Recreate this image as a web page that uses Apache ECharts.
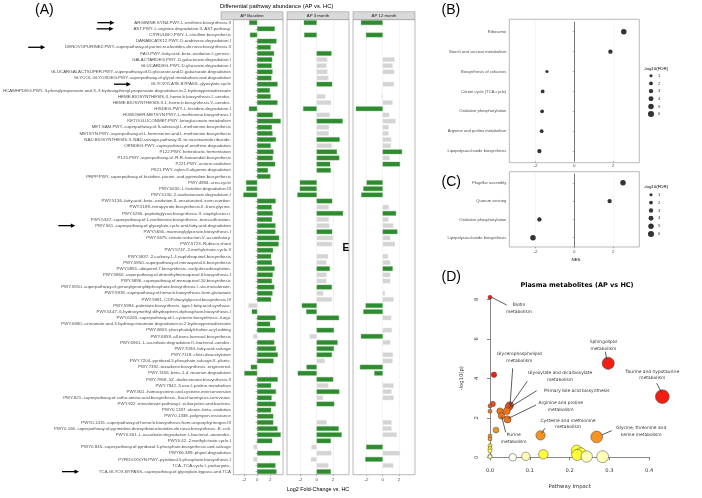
<!DOCTYPE html>
<html>
<head>
<meta charset="utf-8">
<script src="https://cdn.jsdelivr.net/npm/echarts@6.0.0/dist/echarts.min.js"></script>
<style>html,body{margin:0;padding:0;background:#fff;}#chart{width:702px;height:498px;}</style>
</head>
<body>
<div id="chart"></div>
<script>
// ---------- Panel A data ----------
const pathways = [
'ARGININE.SYN4.PWY..L.ornithine.biosynthesis.II',
'AST.PWY..L.arginine.degradation.II..AST.pathway.',
'CITRULBIO.PWY..L.citrulline.biosynthesis',
'DARABCATK12.PWY..D.arabinose.degradation.I',
'DENOVOPURINE2.PWY..superpathway.of.purine.nucleotides.de.novo.biosynthesis.II',
'FAO.PWY..fatty.acid..beta..oxidation.I..generic.',
'GALACTARDEG.PWY..D.galactarate.degradation.I',
'GLUCARDEG.PWY..D.glucarate.degradation.I',
'GLUCARGALACTSUPER.PWY..superpathway.of.D.glucarate.and.D.galactarate.degradation',
'GLYCOL.GLYOXDEG.PWY..superpathway.of.glycol.metabolism.and.degradation',
'GLYOXYLATE.BYPASS..glyoxylate.cycle',
'HCAMHPDEG.PWY..3.phenylpropanoate.and.3..3.hydroxyphenyl.propanoate.degradation.to.2.hydroxypentadienoate',
'HEME.BIOSYNTHESIS.II..heme.b.biosynthesis.I..aerobic.',
'HEME.BIOSYNTHESIS.II.1..heme.b.biosynthesis.V..aerobic.',
'HISDEG.PWY..L.histidine.degradation.I',
'HOMOSER.METSYN.PWY..L.methionine.biosynthesis.I',
'KETOGLUCONMET.PWY..ketogluconate.metabolism',
'MET.SAM.PWY..superpathway.of.S.adenosyl.L.methionine.biosynthesis',
'METSYN.PWY..superpathway.of.L.homoserine.and.L.methionine.biosynthesis',
'NAD.BIOSYNTHESIS.II..NAD.salvage.pathway.III..to.nicotinamide.riboside.',
'ORNDEG.PWY..superpathway.of.ornithine.degradation',
'P122.PWY..heterolactic.fermentation',
'P125.PWY..superpathway.of..R.R..butanediol.biosynthesis',
'P221.PWY..octane.oxidation',
'P621.PWY..nylon.6.oligomer.degradation',
'PRPP.PWY..superpathway.of.histidine..purine..and.pyrimidine.biosynthesis',
'PWY.4984..urea.cycle',
'PWY.5030..L.histidine.degradation.III',
'PWY.5130..2.oxobutanoate.degradation.I',
'PWY.5136..fatty.acid..beta..oxidation.II..unsaturated..even.number.',
'PWY.5189..tetrapyrrole.biosynthesis.II..from.glycine.',
'PWY.5265..peptidoglycan.biosynthesis.II..staphylococci.',
'PWY.5347..superpathway.of.L.methionine.biosynthesis..transsulfuration.',
'PWY.561..superpathway.of.glyoxylate.cycle.and.fatty.acid.degradation',
'PWY.5656..mannosylglycerate.biosynthesis.I',
'PWY.5675..nitrate.reduction.V..assimilatory.',
'PWY.5723..Rubisco.shunt',
'PWY.5747..2.methylcitrate.cycle.II',
'PWY.5837..2.carboxy.1.4.naphthoquinol.biosynthesis',
'PWY.5850..superpathway.of.menaquinol.6.biosynthesis',
'PWY.5855..ubiquinol.7.biosynthesis..early.decarboxylation.',
'PWY.5860..superpathway.of.demethylmenaquinol.6.biosynthesis.I',
'PWY.5896..superpathway.of.menaquinol.10.biosynthesis',
'PWY.5910..superpathway.of.geranylgeranyldiphosphate.biosynthesis.I..via.mevalonate.',
'PWY.5918..superpathway.of.heme.b.biosynthesis.from.glutamate',
'PWY.5981..CDP.diacylglycerol.biosynthesis.III',
'PWY.5994..palmitate.biosynthesis..type.I.fatty.acid.synthase.',
'PWY.6147..6.hydroxymethyl.dihydropterin.diphosphate.biosynthesis.I',
'PWY.6263..superpathway.of.L.cysteine.biosynthesis..fungi.',
'PWY.6690..cinnamate.and.3.hydroxycinnamate.degradation.to.2.hydroxypentadienoate',
'PWY.6803..phosphatidylcholine.acyl.editing',
'PWY.6859..all.trans.farnesol.biosynthesis',
'PWY.6961..L.ascorbate.degradation.II..bacterial..aerobic.',
'PWY.7094..fatty.acid.salvage',
'PWY.7118..chitin.deacetylation',
'PWY.7204..pyridoxal.5.phosphate.salvage.II..plants.',
'PWY.7392..taxadiene.biosynthesis..engineered.',
'PWY.7456..beta..1.4..mannan.degradation',
'PWY.7858..5Z..dodecenoate.biosynthesis.II',
'PWY.7942..5.oxo.L.proline.metabolism',
'PWY.801..homocysteine.and.cysteine.interconversion',
'PWY.821..superpathway.of.sulfur.amino.acid.biosynthesis..Saccharomyces.cerevisiae.',
'PWY.922..mevalonate.pathway.I..eukaryotes.and.bacteria.',
'PWY0.1337..oleate..beta..oxidation',
'PWY0.1338..polymyxin.resistance',
'PWY0.1415..superpathway.of.heme.b.biosynthesis.from.uroporphyrinogen.III',
'PWY0.166..superpathway.of.pyrimidine.deoxyribonucleotides.de.novo.biosynthesis..E..coli.',
'PWY0.301..L.ascorbate.degradation.I..bacterial..anaerobic.',
'PWY0.42..2.methylcitrate.cycle.I',
'PWY0.845..superpathway.of.pyridoxal.5.phosphate.biosynthesis.and.salvage',
'PWY66.389..phytol.degradation',
'PYRIDOXSYN.PWY..pyridoxal.5.phosphate.biosynthesis.I',
'TCA..TCA.cycle.I..prokaryotic.',
'TCA.GLYOX.BYPASS..superpathway.of.glyoxylate.bypass.and.TCA'
];
const facets = ['AP Baseline', 'AP 3 month', 'AP 12 month'];
const fcBaseline = [-1.22,2.73,-1.10,2.98,2.08,2.61,2.33,2.24,2.37,2.20,
3.14,1.96,2.08,3.14,-1.27,2.41,3.63,2.29,2.37,2.90,
2.08,2.53,2.41,2.78,1.67,2.04,-1.71,-1.67,-2.12,2.86,
2.24,2.41,2.29,2.82,2.82,3.39,3.31,2.45,2.16,2.29,
2.69,2.41,2.29,2.65,2.37,2.16,-1.35,-0.82,2.86,2.00,
2.78,-0.61,2.65,2.90,3.18,2.53,-0.98,-1.96,3.18,2.16,
2.90,2.24,2.86,2.16,2.49,2.49,3.14,3.63,2.33,-0.57,
3.55,-0.61,2.82,2.98];
const fc3Month = [-1.58,null,-1.54,null,null,1.83,1.33,1.21,1.33,1.46,
1.92,null,1.08,1.79,-1.67,1.63,3.21,1.54,1.50,2.83,
1.88,2.50,2.79,1.67,1.75,null,-2.08,-2.08,-2.38,1.92,
1.50,3.25,1.50,1.58,1.92,2.00,1.92,null,1.42,1.21,
1.63,1.25,1.21,1.88,0.83,1.88,-1.83,-1.29,2.75,null,
2.13,-0.88,2.58,2.13,1.88,1.00,-1.25,-2.33,2.04,1.46,
2.79,0.79,2.17,null,null,1.25,2.71,3.08,1.75,-0.67,
1.83,-0.71,1.46,1.75];
const fc12Month = [-2.68,null,-2.06,null,null,null,1.48,1.24,1.44,null,
1.40,null,-0.12,1.24,-3.30,0.82,1.61,0.74,0.74,1.07,
1.03,2.39,0.87,2.14,null,null,-1.98,-2.39,-2.64,null,
0.78,1.65,0.74,1.32,1.81,0.95,1.53,null,0.66,0.95,
1.24,0.95,0.95,null,0.29,1.36,-2.10,-2.39,1.07,null,
1.15,-2.68,0.95,null,1.28,1.24,-2.80,-1.03,null,1.36,
1.11,1.36,null,null,null,1.11,1.11,1.73,null,-2.02,
2.14,-2.14,1.32,null];
// 1 = significant (green), 0 = not significant (grey)
const sigBaseline = [1,1,1,1,1,1,1,1,1,1, 1,1,1,1,1,1,1,1,1,1, 1,1,1,1,1,1,1,1,1,1, 1,1,1,1,1,1,1,1,1,1,
1,1,1,1,1,1,0,1,1,1, 1,0,1,1,1,1,1,1,1,1, 1,1,1,1,1,1,1,1,1,0, 1,0,1,1];
const sig3Month = [1,0,1,0,0,1,0,0,0,0, 1,0,0,0,1,0,1,0,0,1, 0,1,1,1,1,0,1,1,1,1, 0,1,0,0,1,0,0,0,0,0,
1,0,0,1,0,0,1,1,1,0, 1,0,1,1,1,0,1,1,1,0, 1,0,1,0,0,0,1,1,1,0, 0,0,0,1];
const sig12Month = [1,0,1,0,0,0,0,0,0,0, 0,0,0,0,1,0,0,0,0,0, 0,1,0,1,0,0,1,1,1,0, 0,1,0,0,1,0,0,0,0,0,
1,0,0,0,0,0,1,1,0,0, 0,1,0,0,0,0,1,1,0,0, 0,0,0,0,0,0,0,0,0,1, 0,1,0,0];
const fcTicks = [-2, 0, 2];
const arrowedPathways = [pathways[0], pathways[1], pathways[4], pathways[10], pathways[33], pathways[73]];

// ---------- Panels B & C data ----------
const termsB = ['Ribosome','Starch and sucrose metabolism','Biosynthesis of cofactors','Citrate cycle (TCA cycle)',
  'Oxidative phosphorylation','Arginine and proline metabolism','Lipopolysaccharide biosynthesis'];
const nesB = [2.55, 1.86, -1.41, -1.63, -1.66, -1.68, -1.80];
const fdrB = [5, 3, 1, 2, 2, 2, 3];
const termsC = ['Flagellar assembly','Quorum sensing','Oxidative phosphorylation','Lipopolysaccharide biosynthesis'];
const nesC = [2.51, 1.82, -1.80, -2.13];
const fdrC = [5, 3, 3, 5];
const nesTicks = [-2, 0, 2];
const fdrLegend = ['1','2','3','4','5','6'];

// ---------- Panel D data ----------
const metImpact = [0.0, 0.010, 0.007, 0.0, 0.0, 0.025, 0.050, 0.047, 0.042, 0.029, 0.044, 0.015,
  0.0, 0.0, 0.0, 0.0, 0.0, 0.0, 0.0, 0.057, 0.090, 0.134, 0.127, 0.268, 0.218, 0.228, 0.219, 0.243, 0.283, 0.297, 0.433];
const metLogP = [8.10, 4.18, 2.70, 2.60, 2.33, 2.34, 2.63, 2.55, 2.34, 2.10, 1.92, 1.38,
  1.08, 0.93, 0.59, 0.44, 0.33, 0.07, 0.03, 0.0, 0.05, 0.15, 1.11, 1.03, 0.34, 0.20, 0.12, 0.04, 0.03, 4.76, 3.07];

// annotation placement (data coordinates of panel D)
const metNotes = [
 {text:'Biotin\nmetabolism', at:[0.0729,7.54], line:[[0.042,7.71],[0.0043,8.10]]},
 {text:'Sphingolipid\nmetabolism', at:[0.2847,5.67], line:[[0.2897,5.35],[0.2932,4.96]]},
 {text:'Taurine and hypotaurine\nmetabolism', at:[0.4078,4.18], line:[[0.4188,3.75],[0.4314,3.27]]},
 {text:'Glycerophospholipid\nmetabolism', at:[0.0736,5.06], line:[[0.057,4.51],[0.0503,2.62]]},
 {text:'Glyoxylate and dicarboxylate\nmetabolism', at:[0.1759,4.10], line:[[0.0937,3.85],[0.050,2.60]]},
 {text:'Primary bile acid biosynthesis', at:[0.2178,3.34], line:[[0.1173,3.37],[0.0470,2.50]]},
 {text:'Arginine and proline\nmetabolism', at:[0.1776,2.58], line:[[0.1156,2.65],[0.046,1.97]]},
 {text:'Cysteine and methionine\nmetabolism', at:[0.196,1.70], line:[[0.138,1.47],[0.130,1.22]]},
 {text:'Glycine, threonine and\nserine metabolism', at:[0.380,1.32], line:[[0.3058,1.35],[0.2807,1.13]]},
 {text:'Purine\nmetabolism', at:[0.0595,0.97], line:[[0.0394,1.27],[0.0294,2.06]]}
];

// ---------- build chart ----------
const FONT = "'Liberation Sans', Arial, sans-serif";
const DFONT = "'DejaVu Sans', sans-serif";
const GREEN = '#2f8b2f', GREY = '#d4d4d4';
const facetLeft = [221, 287, 353], facetTop = 19.6, facetH = 455.1, facetW = 62;
const fcSeries = [fcBaseline, fc3Month, fc12Month];
const sigSeries = [sigBaseline, sig3Month, sig12Month];

const grids = [], xAxes = [], yAxes = [], series = [];
for (let i = 0; i < 3; i++) {
  grids.push({left: facetLeft[i], top: facetTop, width: facetW, height: facetH, show: true,
    borderColor: '#8a8a8a', borderWidth: 0.6, backgroundColor: '#fff'});
  xAxes.push({type: 'value', gridIndex: i, min: -3.65, max: 3.98,
    axisLine: {show: false},
    axisTick: {show: true, customValues: fcTicks, length: 1.5, lineStyle: {color: '#666', width: 0.5}},
    axisLabel: {customValues: fcTicks, fontSize: 4.4, color: '#4d4d4d', margin: 3, fontFamily: FONT},
    splitLine: {show: true, lineStyle: {color: '#e8e8e8', width: 0.5}}});
  yAxes.push({type: 'category', gridIndex: i, data: pathways, inverse: true,
    axisLine: {show: false},
    axisTick: {show: i === 0, length: 1.5, alignWithLabel: true, interval: 0, lineStyle: {color: '#666', width: 0.5}},
    axisLabel: {show: i === 0, interval: 0, fontSize: 4.4, color: '#4d4d4d', margin: 2.5, fontFamily: FONT},
    splitLine: {show: false}});
  series.push({type: 'bar', xAxisIndex: i, yAxisIndex: i, barWidth: '76%', silent: true,
    data: fcSeries[i].map((v, k) => v === null ? '-' : {value: v, itemStyle: {
      color: sigSeries[i][k] ? GREEN : GREY, borderColor: sigSeries[i][k] ? '#5aa95a' : '#e6e6e6', borderWidth: 0.4}})});
}

// Panels B, C
const bcGrids = [
  {left: 509.3, top: 21.8, width: 130, height: 139.2},
  {left: 509.3, top: 173.65, width: 130, height: 73.2}
];
const bcTerms = [termsB, termsC], bcNes = [nesB, nesC], bcFdr = [fdrB, fdrC];
const fdrSize = v => 2.6 + 0.58 * v;
for (let j = 0; j < 2; j++) {
  const gi = 3 + j;
  grids.push(bcGrids[j]);
  xAxes.push({type: 'value', gridIndex: gi, min: -3.35, max: 3.35,
    axisLine: {show: false},
    axisTick: {show: true, customValues: nesTicks, length: 1.5, lineStyle: {color: '#666', width: 0.5}},
    axisLabel: {customValues: nesTicks, fontSize: 4.4, color: '#4d4d4d', margin: 3, fontFamily: FONT},
    splitLine: {show: true, lineStyle: {color: '#ececec', width: 0.5}}});
  yAxes.push({type: 'category', gridIndex: gi, data: bcTerms[j], inverse: true,
    axisLine: {show: false},
    axisTick: {show: true, length: 1.5, alignWithLabel: true, lineStyle: {color: '#666', width: 0.5}},
    axisLabel: {interval: 0, fontSize: 4.1, color: '#4d4d4d', margin: 3, fontFamily: FONT},
    splitLine: {show: false}});
  series.push({type: 'scatter', xAxisIndex: gi, yAxisIndex: gi, silent: true,
    data: bcTerms[j].map((t, k) => [bcNes[j][k], t, bcFdr[j][k]]),
    symbolSize: v => fdrSize(v[2]),
    itemStyle: {color: '#000'},
    markLine: {silent: true, symbol: 'none', label: {show: false},
      lineStyle: {color: '#555', width: 0.8, type: 'solid'}, data: [{xAxis: 0}]}});
}
// size legends
const legTops = [71.9, 190.8], legH = [46, 47.2];
for (let j = 0; j < 2; j++) {
  const gi = 5 + j;
  grids.push({left: 648, top: legTops[j], width: 6, height: legH[j]});
  xAxes.push({type: 'value', gridIndex: gi, min: -1, max: 1, show: false});
  yAxes.push({type: 'category', gridIndex: gi, data: fdrLegend, inverse: true, position: 'right',
    axisLine: {show: false}, axisTick: {show: false},
    axisLabel: {interval: 0, fontSize: 4.2, color: '#333', margin: 4, fontFamily: FONT}});
  series.push({type: 'scatter', xAxisIndex: gi, yAxisIndex: gi, silent: true,
    data: fdrLegend.map(s => [0, s]), symbolSize: v => fdrSize(Number(v[1])), itemStyle: {color: '#000'}});
}
// Panel D
grids.push({left: 490, top: 299.3, width: 159.2, height: 158});
xAxes.push({type: 'value', gridIndex: 7, min: 0, max: 0.4, interval: 0.1, offset: 6,
  axisLine: {show: true, lineStyle: {color: '#555', width: 0.7}},
  axisTick: {show: true, length: 3, lineStyle: {color: '#555', width: 0.7}},
  axisLabel: {formatter: v => v.toFixed(1), fontSize: 5.2, color: '#333', margin: 5, fontFamily: DFONT},
  splitLine: {show: false},
  name: 'Pathway Impact', nameLocation: 'middle', nameGap: 21,
  nameTextStyle: {fontSize: 5.3, color: '#333', fontFamily: DFONT}});
yAxes.push({type: 'value', gridIndex: 7, min: 0, max: 8, interval: 2, offset: 5,
  axisLine: {show: true, lineStyle: {color: '#555', width: 0.7}},
  axisTick: {show: true, length: 3, lineStyle: {color: '#555', width: 0.7}},
  axisLabel: {rotate: 90, fontSize: 5.2, color: '#333', margin: 6, fontFamily: DFONT},
  splitLine: {show: false},
  name: '-log10(p)', nameLocation: 'middle', nameGap: 21, nameRotate: 90,
  nameTextStyle: {fontSize: 5.3, color: '#333', fontFamily: DFONT}});
series.push({type: 'scatter', xAxisIndex: 7, yAxisIndex: 7, silent: true, clip: false,
  data: metImpact.map((x, i) => [x, metLogP[i]]),
  symbolSize: d => 4 + 15 * Math.sqrt(d[0]),
  itemStyle: {borderColor: '#444', borderWidth: 0.5, opacity: 1}});

const chart = echarts.init(document.getElementById('chart'), null, {renderer: 'canvas'});
chart.setOption({
  animation: false,
  backgroundColor: '#fff',
  textStyle: {fontFamily: FONT},
  grid: grids, xAxis: xAxes, yAxis: yAxes, series: series,
  visualMap: [{type: 'piecewise', show: false, seriesIndex: 7, dimension: 1,
    pieces: [
      {lt: 0.015, color: '#fffff4'},
      {gte: 0.015, lt: 0.08, color: '#ffffb8'},
      {gte: 0.08, lt: 0.5, color: '#ffff3a'},
      {gte: 0.5, lt: 0.9, color: '#ffd83a'},
      {gte: 0.9, lt: 1.6, color: '#f39322'},
      {gte: 1.6, lt: 2.5, color: '#ef7219'},
      {gte: 2.5, lt: 3.0, color: '#e8521a'},
      {gte: 3.0, color: '#f21e14'}
    ]}]
});

// ---------- annotations ----------
const g = [];
function txt(x, y, text, o) {
  o = o || {};
  g.push({type: 'text', x: x, y: y, z: 100, silent: true, style: {
    text: text, fill: o.fill || '#000', fontSize: o.size || 5, fontFamily: o.family || FONT,
    fontWeight: o.weight || 'normal', align: o.align || 'left', textAlign: o.align || 'left',
    verticalAlign: 'middle', textVerticalAlign: 'middle', lineHeight: o.lh || (o.size || 5) * 1.3}});
}
function line(x1, y1, x2, y2, w, c) {
  g.push({type: 'line', z: 99, silent: true, shape: {x1: x1, y1: y1, x2: x2, y2: y2},
    style: {stroke: c || '#000', lineWidth: w || 0.8}});
}
// panel letters
txt(35, 10, '(A)', {size: 14});
txt(441.5, 10, '(B)', {size: 14});
txt(441.5, 182.5, '(C)', {size: 14});
txt(441.5, 277.5, '(D)', {size: 14});
// panel A titles & strips
txt(220, 6.5, 'Differential pathway abundance (AP vs. HC)', {size: 5.8});
facets.forEach((f, i) => {
  g.push({type: 'rect', z: 90, silent: true, shape: {x: facetLeft[i], y: 11.7, width: facetW, height: 7.9},
    style: {fill: '#d9d9d9', stroke: '#8a8a8a', lineWidth: 0.5}});
  txt(facetLeft[i] + facetW / 2, 15.7, f, {size: 4.3, align: 'center', fill: '#1a1a1a'});
});
txt(318, 490, 'Log2 Fold-Change vs. HC', {size: 5.4, align: 'center'});
txt(342.5, 248.7, 'E', {size: 10, weight: 'bold'});
// arrows next to highlighted pathways
const ctx = document.createElement('canvas').getContext('2d');
ctx.font = '4.4px ' + FONT;
arrowedPathways.forEach(p => {
  const y = chart.convertToPixel({yAxisIndex: 0}, p);
  const w = ctx.measureText(p).width;
  const tip = facetLeft[0] - 1.5 - 2.5 - w - 6;
  line(tip - 17, y, tip - 3, y, 1.3, '#000');
  g.push({type: 'polygon', z: 99, silent: true, shape: {points: [[tip, y], [tip - 4.5, y - 2.2], [tip - 4.5, y + 2.2]]},
    style: {fill: '#000'}});
});
// panels B & C borders, legends
g.push({type: 'rect', z: 1, silent: true, shape: {x: 509.3, y: 19.3, width: 130, height: 143.4},
  style: {fill: 'none', stroke: '#8a8a8a', lineWidth: 0.6}});
g.push({type: 'rect', z: 1, silent: true, shape: {x: 509.3, y: 171.7, width: 130, height: 75.3},
  style: {fill: 'none', stroke: '#8a8a8a', lineWidth: 0.6}});
txt(644, 68.3, '-log10(FDR)', {size: 4.4});
txt(644, 186.7, '-log10(FDR)', {size: 4.4});
txt(576, 260, 'NES', {size: 4.4, align: 'center'});
// panel D title and labels
txt(577, 285, 'Plasma metabolites (AP vs HC)', {size: 6.5, weight: 'bold', family: DFONT, align: 'center'});
metNotes.forEach(n => {
  const p = chart.convertToPixel({xAxisIndex: 7, yAxisIndex: 7}, n.at);
  const a = chart.convertToPixel({xAxisIndex: 7, yAxisIndex: 7}, n.line[0]);
  const b = chart.convertToPixel({xAxisIndex: 7, yAxisIndex: 7}, n.line[1]);
  txt(p[0], p[1], n.text, {size: 4.4, family: DFONT, align: 'center', fill: '#333', lh: 6.7});
  line(a[0], a[1], b[0], b[1], 0.8, '#333');
});
chart.setOption({graphic: {elements: g}});
</script>
</body>
</html>
